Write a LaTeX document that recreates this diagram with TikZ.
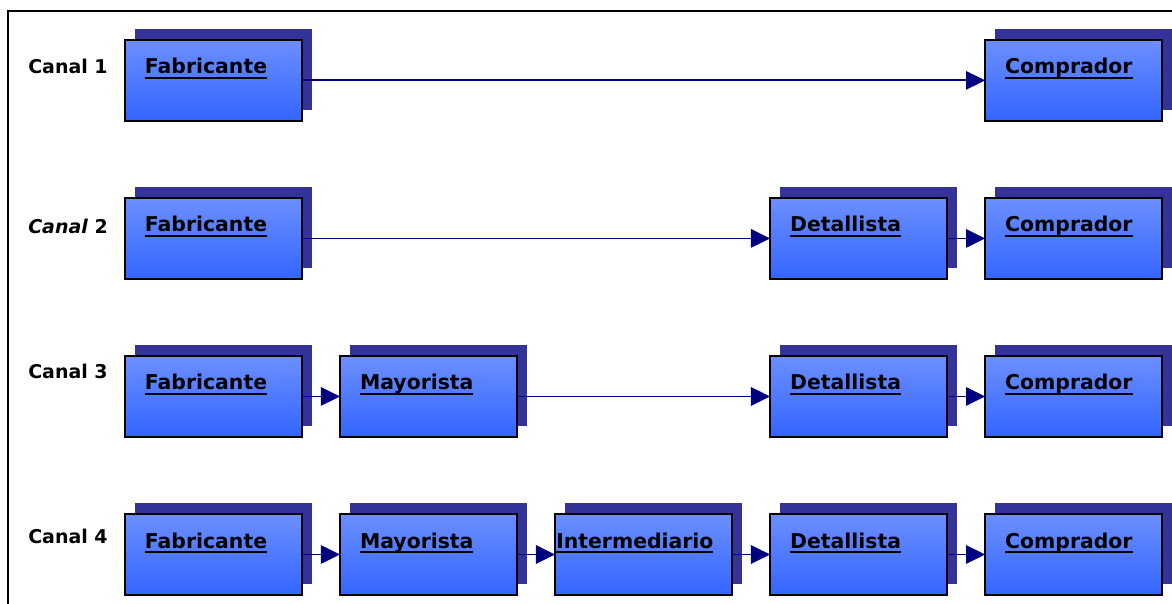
\documentclass[tikz,border=0pt]{standalone}
\usepackage{fontspec}
\setmainfont{DejaVu Sans}
\usepackage{xcolor}
\usepackage{tikz}
\usetikzlibrary{arrows.meta,positioning,shadows}

\definecolor{azulclaro}{RGB}{108,142,255}
\definecolor{azulfuerte}{RGB}{51,102,255}
\definecolor{sombra}{RGB}{51,51,153}
\definecolor{marino}{RGB}{0,0,128}

\newsavebox{\textocaja}
\newcommand{\subrayar}[1]{\sbox{\textocaja}{#1}\rlap{\rule[-0.12cm]{\wd\textocaja}{0.05cm}}\usebox{\textocaja}}

\begin{document}
\begin{tikzpicture}[x=0.025cm, y=-0.025cm]
  % styles
  \tikzstyle{caja}=[rectangle, draw=black, line width=1.1pt, outer sep=0pt, top color=azulclaro, bottom color=azulfuerte, general shadow={fill=sombra, shadow xshift=0.25cm, shadow yshift=0.275cm}, minimum width=4.425cm, minimum height=2.025cm, inner xsep=0.5cm, inner ysep=0pt, text width=3.425cm, align=left, text height=0.85cm, text depth=1.175cm, font=\bfseries\fontsize{14.5}{17}\selectfont]
  \tikzstyle{ancha}=[inner xsep=0.03cm, text width=4.365cm]
  \tikzstyle{canal}=[anchor=base west, inner sep=0pt, font=\bfseries\fontsize{13.5}{16}\selectfont]
  \tikzstyle{flecha}=[draw, marino, line width=1.3pt, -{Triangle[length=0.48cm, width=0.46cm]}]

  \useasboundingbox (0,0) rectangle (1172,604);
  \draw [line width=1.2pt] (8,604) -- (8,11) -- (1172,11);

  % fourth row
  \node [caja] (fab4) at (213.5,554.5) {\subrayar{Fabricante}};
  \node [caja, right=0.95cm of fab4] (may4) {\subrayar{Mayorista}};
  \node [caja, ancha, right=0.95cm of may4] (int4) {\subrayar{Intermediario}};
  \node [caja, right=0.95cm of int4] (det4) {\subrayar{Detallista}};
  \node [caja, right=0.95cm of det4] (com4) {\subrayar{Comprador}};

  % third row
  \node [caja, above=1.925cm of fab4] (fab3) {\subrayar{Fabricante}};
  \node [caja, above=1.925cm of may4] (may3) {\subrayar{Mayorista}};
  \node [caja, above=1.925cm of det4] (det3) {\subrayar{Detallista}};
  \node [caja, above=1.925cm of com4] (com3) {\subrayar{Comprador}};

  % second row
  \node [caja, above=1.925cm of fab3] (fab2) {\subrayar{Fabricante}};
  \node [caja, above=1.925cm of det3] (det2) {\subrayar{Detallista}};
  \node [caja, above=1.925cm of com3] (com2) {\subrayar{Comprador}};

  % first row
  \node [caja, above=1.925cm of fab2] (fab1) {\subrayar{Fabricante}};
  \node [caja, above=1.925cm of com2] (com1) {\subrayar{Comprador}};

  % channel names
  \node [canal] (canal1) at (28,74) {Canal 1};
  \node [canal] (canal2) at (28,233) {\textit{Canal} 2};
  \node [canal] (canal3) at (28,378) {Canal 3};
  \node [canal] (canal4) at (28,543) {Canal 4};

  \draw [flecha] (fab1) -- (com1);

  \draw [flecha] (fab2) -- (det2);
  \draw [flecha] (det2) -- (com2);

  \draw [flecha] (fab3) -- (may3);
  \draw [flecha] (may3) -- (det3);
  \draw [flecha] (det3) -- (com3);

  \draw [flecha] (fab4) -- (may4);
  \draw [flecha] (may4) -- (int4);
  \draw [flecha] (int4) -- (det4);
  \draw [flecha] (det4) -- (com4);
\end{tikzpicture}
\end{document}
